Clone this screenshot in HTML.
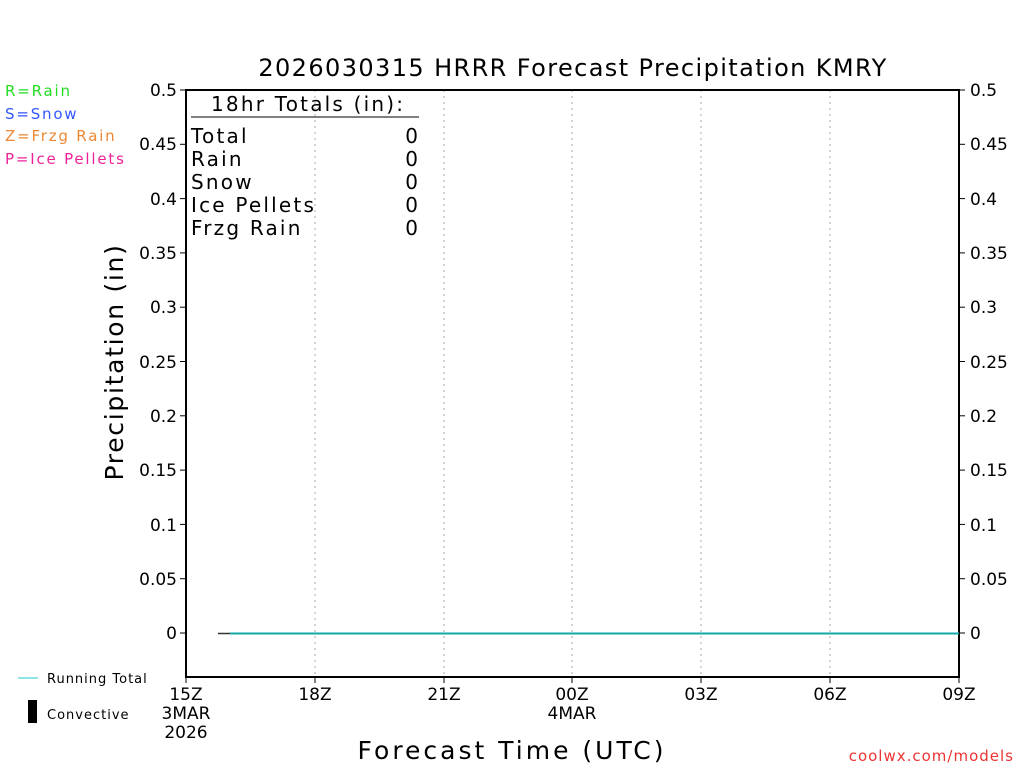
<!DOCTYPE html>
<html><head><meta charset="utf-8"><style>
html,body{margin:0;padding:0;background:#fff;}
svg text{font-family:"DejaVu Sans","Liberation Sans",sans-serif;}
</style></head><body>
<svg width="1024" height="768" xmlns="http://www.w3.org/2000/svg">
<rect width="1024" height="768" fill="#fff"/>
<text x="573" y="76" font-size="24" text-anchor="middle" fill="#000" letter-spacing="1.4">2026030315 HRRR Forecast Precipitation KMRY</text>
<g font-size="15" letter-spacing="1.8">
<text x="5" y="96" fill="#22dd22">R=Rain</text>
<text x="5" y="119" fill="#3355ff">S=Snow</text>
<text x="5" y="141" fill="#ee8833">Z=Frzg Rain</text>
<text x="5" y="164" fill="#ee2299">P=Ice Pellets</text>
</g>
<g stroke="#aaa" stroke-width="1" stroke-dasharray="2,4">
<line x1="315" y1="90" x2="315" y2="677"/><line x1="444" y1="90" x2="444" y2="677"/><line x1="572" y1="90" x2="572" y2="677"/><line x1="701" y1="90" x2="701" y2="677"/><line x1="830" y1="90" x2="830" y2="677"/>
</g>
<rect x="186" y="90" width="773" height="587" fill="none" stroke="#000" stroke-width="2"/>
<g stroke="#000" stroke-width="1">
<line x1="180" y1="90" x2="186" y2="90"/><line x1="180" y1="144.3" x2="186" y2="144.3"/><line x1="180" y1="198.6" x2="186" y2="198.6"/><line x1="180" y1="252.9" x2="186" y2="252.9"/><line x1="180" y1="307.2" x2="186" y2="307.2"/><line x1="180" y1="361.5" x2="186" y2="361.5"/><line x1="180" y1="415.8" x2="186" y2="415.8"/><line x1="180" y1="470.1" x2="186" y2="470.1"/><line x1="180" y1="524.4" x2="186" y2="524.4"/><line x1="180" y1="578.7" x2="186" y2="578.7"/><line x1="180" y1="633" x2="186" y2="633"/>
<line x1="959" y1="90" x2="965" y2="90"/><line x1="959" y1="144.3" x2="965" y2="144.3"/><line x1="959" y1="198.6" x2="965" y2="198.6"/><line x1="959" y1="252.9" x2="965" y2="252.9"/><line x1="959" y1="307.2" x2="965" y2="307.2"/><line x1="959" y1="361.5" x2="965" y2="361.5"/><line x1="959" y1="415.8" x2="965" y2="415.8"/><line x1="959" y1="470.1" x2="965" y2="470.1"/><line x1="959" y1="524.4" x2="965" y2="524.4"/><line x1="959" y1="578.7" x2="965" y2="578.7"/><line x1="959" y1="633" x2="965" y2="633"/>
<line x1="186" y1="677" x2="186" y2="683"/><line x1="315" y1="677" x2="315" y2="683"/><line x1="444" y1="677" x2="444" y2="683"/><line x1="572" y1="677" x2="572" y2="683"/><line x1="701" y1="677" x2="701" y2="683"/><line x1="830" y1="677" x2="830" y2="683"/><line x1="959" y1="677" x2="959" y2="683"/>
</g>
<g font-size="17" fill="#000" text-anchor="end">
<text x="177" y="96">0.5</text><text x="177" y="150">0.45</text><text x="177" y="205">0.4</text><text x="177" y="259">0.35</text><text x="177" y="313">0.3</text><text x="177" y="368">0.25</text><text x="177" y="422">0.2</text><text x="177" y="476">0.15</text><text x="177" y="531">0.1</text><text x="177" y="585">0.05</text><text x="177" y="639">0</text>
</g>
<g font-size="17" fill="#000">
<text x="970" y="96">0.5</text><text x="970" y="150">0.45</text><text x="970" y="205">0.4</text><text x="970" y="259">0.35</text><text x="970" y="313">0.3</text><text x="970" y="368">0.25</text><text x="970" y="422">0.2</text><text x="970" y="476">0.15</text><text x="970" y="531">0.1</text><text x="970" y="585">0.05</text><text x="970" y="639">0</text>
</g>
<g font-size="17" fill="#000" text-anchor="middle">
<text x="186" y="700">15Z</text><text x="186" y="719">3MAR</text><text x="186" y="738">2026</text>
<text x="315" y="700">18Z</text><text x="444" y="700">21Z</text><text x="572" y="700">00Z</text><text x="572" y="719">4MAR</text><text x="701" y="700">03Z</text><text x="830" y="700">06Z</text><text x="959" y="700">09Z</text>
</g>
<text x="512" y="759" font-size="25" text-anchor="middle" letter-spacing="3">Forecast Time (UTC)</text>
<text transform="translate(123,362) rotate(-90)" font-size="25" text-anchor="middle" letter-spacing="1.7">Precipitation (in)</text>
<text x="1014" y="761" font-size="15" fill="#ee3333" text-anchor="end" letter-spacing="1">coolwx.com/models</text>
<g font-size="20" fill="#000" letter-spacing="2.2">
<text x="211" y="111">18hr Totals (in):</text>
<line x1="191" y1="117" x2="419" y2="117" stroke="#000" stroke-width="1"/>
<text x="191" y="143">Total</text><text x="191" y="166">Rain</text><text x="191" y="189">Snow</text><text x="191" y="212">Ice Pellets</text><text x="191" y="235">Frzg Rain</text>
<g text-anchor="end" letter-spacing="0"><text x="418" y="143">0</text><text x="418" y="166">0</text><text x="418" y="189">0</text><text x="418" y="212">0</text><text x="418" y="235">0</text></g>
</g>
<line x1="218" y1="633.5" x2="230" y2="633.5" stroke="#333" stroke-width="1.5"/>
<line x1="230" y1="633.5" x2="959" y2="633.5" stroke="#10a8a8" stroke-width="2"/>
<line x1="18" y1="678" x2="38" y2="678" stroke="#22cccc" stroke-width="1"/>
<text x="47" y="683" font-size="13" letter-spacing="1">Running Total</text>
<rect x="28" y="700" width="9" height="23" fill="#000"/>
<text x="47" y="719" font-size="13" letter-spacing="1">Convective</text>
</svg>
</body></html>
